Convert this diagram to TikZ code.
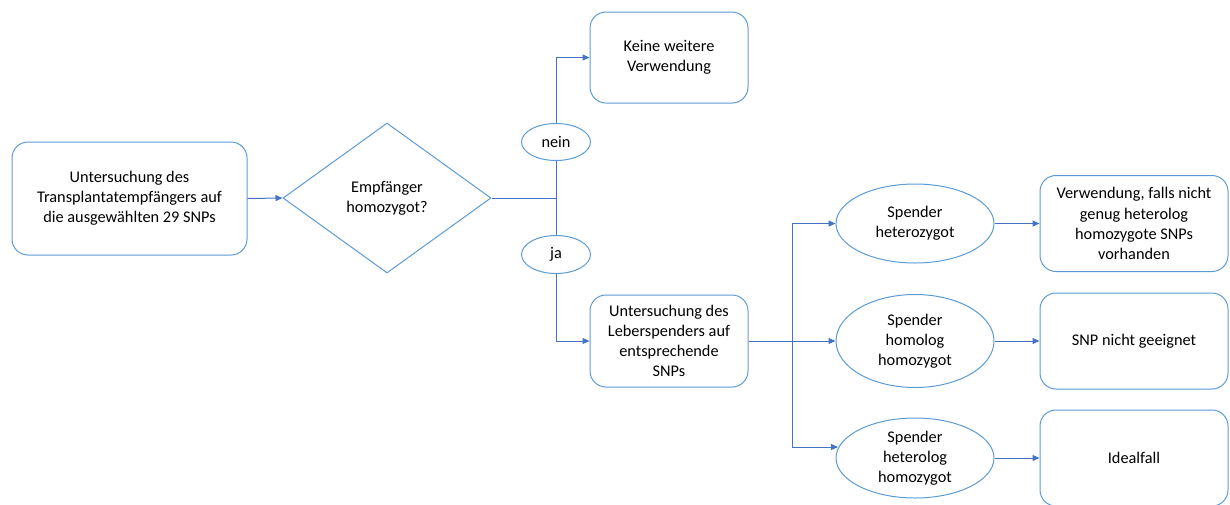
\documentclass[tikz,border=0pt]{standalone}
\usepackage{fontspec}
\setmainfont{Carlito}
\usetikzlibrary{shapes.geometric,arrows.meta}
\definecolor{boxblue}{RGB}{91,155,213}
\definecolor{linkblue}{RGB}{68,114,196}
\begin{document}
\begin{tikzpicture}[x=1pt,y=-1pt,
  every node/.style={font=\fontsize{16.3}{20.2}\selectfont, text=black, align=center},
  rbox/.style={draw=boxblue, line width=1pt, rounded corners=16pt, inner sep=0pt, rectangle},
  ebox/.style={draw=boxblue, ellipse, line width=1pt, inner sep=0pt},
  dbox/.style={draw=boxblue, diamond, line width=1pt, inner sep=0pt},
  link/.style={draw=linkblue, line width=1pt},
  arr/.style={link, -{Triangle[length=7pt,width=6pt]}}]
\useasboundingbox (0,0) rectangle (1230,504);

\node[rbox, minimum width=235pt, minimum height=113pt] (A) at (129.5,198.5)
  {Untersuchung des\\Transplantatempfängers auf\\die ausgewählten 29 SNPs};
\node[dbox, minimum width=208pt, minimum height=150pt] (Q) at (387,198)
  {Empfänger\\homozygot?};
\node[ebox, minimum width=69pt, minimum height=37pt] (nein) at (556,142) {nein};
\node[ebox, minimum width=69pt, minimum height=38pt] (ja) at (556,254.5) {ja};
\node[rbox, minimum width=158pt, minimum height=91pt] (B) at (669,57.5)
  {Keine weitere\\Verwendung};
\node[rbox, minimum width=158pt, minimum height=92pt] (C) at (669,341)
  {Untersuchung des\\Leberspenders auf\\entsprechende\\SNPs};
\node[ebox, minimum width=158pt, minimum height=79pt] (E1) at (915,223.5)
  {Spender\\heterozygot};
\node[ebox, minimum width=158pt, minimum height=93pt] (E2) at (915,341)
  {Spender\\homolog\\homozygot};
\node[ebox, minimum width=158pt, minimum height=80pt] (E3) at (915,458)
  {Spender\\heterolog\\homozygot};
\node[rbox, minimum width=188pt, minimum height=96pt] (D) at (1134,223.5)
  {Verwendung, falls nicht\\genug heterolog\\homozygote SNPs\\vorhanden};
\node[rbox, minimum width=188pt, minimum height=96pt] (E) at (1134,341)
  {SNP nicht geeignet};
\node[rbox, minimum width=188pt, minimum height=96pt] (F) at (1134,458)
  {Idealfall};

\coordinate (j1) at (556,198);
\coordinate (j2) at (792,341);
\coordinate (j2t) at (792,223.5);
\coordinate (j2b) at (792,447);
\coordinate (e3in) at (838,447);

\draw[arr] (A.east) -- (Q.west);
\draw[link] (Q.east) -- (j1);
\draw[link] (j1) -- (nein.south);
\draw[arr] (nein.north) |- (B.west);
\draw[link] (j1) -- (ja.north);
\draw[arr] (ja.south) |- (C.west);
\draw[link] (C.east) -- (j2);
\draw[link] (j2t) -- (j2b);
\draw[arr] (j2t) -- (E1.west);
\draw[arr] (j2) -- (E2.west);
\draw[arr] (j2b) -- (e3in);
\draw[arr] (E1.east) -- (D.west);
\draw[arr] (E2.east) -- (E.west);
\draw[arr] (E3.east) -- (F.west);
\end{tikzpicture}
\end{document}
